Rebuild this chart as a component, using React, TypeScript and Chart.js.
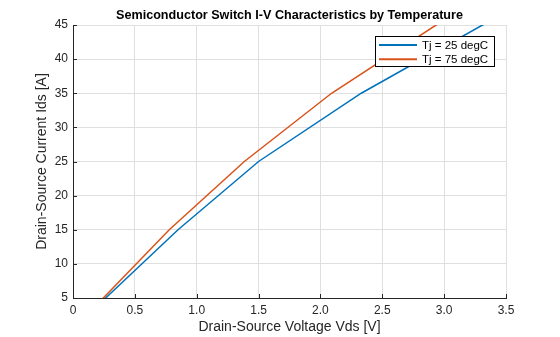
import React, { useEffect, useRef } from "react";
import { Chart, registerables } from "chart.js";

Chart.register(...registerables);

const FONT = "'Liberation Sans', Arial, Helvetica, sans-serif";

// Drain current values (A) at which the curves are sampled
const idsValues = [0, 5, 15, 25, 35, 45, 55];
// Drain-source voltage (V) for each current, per junction temperature
const vdsTj25 = [0, 0.264, 0.849, 1.5, 2.33, 3.31, 4.4];
const vdsTj75 = [0, 0.245, 0.778, 1.385, 2.09, 2.935, 3.9];

const seriesLabels = ["Tj = 25 degC", "Tj = 75 degC"];
const seriesColors = ["#0072BD", "#D95319"];

const xTickValues = [0, 0.5, 1, 1.5, 2, 2.5, 3, 3.5];
const yTickValues = [5, 10, 15, 20, 25, 30, 35, 40, 45];

const chartTitle = "Semiconductor Switch I-V Characteristics by Temperature";
const xAxisTitle = "Drain-Source Voltage Vds [V]";
const yAxisTitle = "Drain-Source Current Ids [A]";

const decorPlugin = {
  id: "decor",
  afterDraw(chart: any) {
    const { ctx, chartArea: ca, scales } = chart;
    ctx.save();
    // inward tick marks
    ctx.strokeStyle = "#262626";
    ctx.lineWidth = 1;
    ctx.beginPath();
    for (const t of xTickValues) {
      const px = Math.round(scales.x.getPixelForValue(t)) + 0.5;
      ctx.moveTo(px, ca.bottom);
      ctx.lineTo(px, ca.bottom - 4);
    }
    for (const t of yTickValues) {
      const py = Math.round(scales.y.getPixelForValue(t)) + 0.5;
      ctx.moveTo(ca.left, py);
      ctx.lineTo(ca.left + 4, py);
    }
    ctx.stroke();

    // title
    ctx.fillStyle = "#000000";
    ctx.font = `bold 12.6px ${FONT}`;
    ctx.textAlign = "center";
    ctx.textBaseline = "alphabetic";
    ctx.fillText(chartTitle, (ca.left + ca.right) / 2, 19);

    // legend
    const bx = 375.5, by = 36.5, bw = 119, bh = 30;
    ctx.fillStyle = "#ffffff";
    ctx.fillRect(bx, by, bw, bh);
    ctx.strokeStyle = "#000000";
    ctx.lineWidth = 1;
    ctx.strokeRect(bx, by, bw, bh);
    ctx.font = `11.5px ${FONT}`;
    ctx.textAlign = "left";
    ctx.textBaseline = "middle";
    seriesLabels.forEach((label, i) => {
      const ry = 45 + i * 14.3;
      ctx.strokeStyle = seriesColors[i];
      ctx.lineWidth = 2;
      ctx.beginPath();
      ctx.moveTo(379, ry);
      ctx.lineTo(417, ry);
      ctx.stroke();
      ctx.fillStyle = "#000000";
      ctx.fillText(label, 422, ry + 0.5);
    });
    ctx.restore();
  },
};

export default function App() {
  const canvasRef = useRef<HTMLCanvasElement | null>(null);

  useEffect(() => {
    document.body.style.margin = "0";
    const canvas = canvasRef.current;
    if (!canvas) return;
    const seriesVds = [vdsTj25, vdsTj75];
    const chart = new Chart(canvas, {
      type: "scatter",
      data: {
        datasets: seriesLabels.map((label, i) => ({
          label,
          data: idsValues.map((y, j) => ({ x: seriesVds[i][j], y })),
          borderColor: seriesColors[i],
          backgroundColor: seriesColors[i],
          showLine: true,
          pointRadius: 0,
          borderWidth: 1.5,
          tension: 0,
        })),
      },
      options: {
        responsive: false,
        animation: false,
        devicePixelRatio: 1,
        layout: { padding: { top: 25, right: 54, bottom: 0, left: 0 } },
        plugins: {
          legend: { display: false },
          title: { display: false },
          tooltip: { enabled: false },
        },
        scales: {
          x: {
            type: "linear",
            min: 0,
            max: 3.5,
            ticks: {
              stepSize: 0.5,
              color: "#262626",
              font: { family: FONT, size: 12 },
              padding: 5,
              maxRotation: 0,
            },
            grid: { color: "#dfdfdf", drawTicks: false },
            border: { display: true, color: "#262626", width: 1 },
            title: {
              display: true,
              text: xAxisTitle,
              color: "#262626",
              font: { family: FONT, size: 14 },
              padding: { top: 0, bottom: 1.5 },
            },
            afterFit: (s: any) => {
              s.height = 39;
            },
          },
          y: {
            type: "linear",
            min: 5,
            max: 45,
            ticks: {
              stepSize: 5,
              color: "#262626",
              font: { family: FONT, size: 12 },
              padding: 5,
            },
            grid: { color: "#dfdfdf", drawTicks: false },
            border: { display: true, color: "#262626", width: 1 },
            title: {
              display: true,
              text: yAxisTitle,
              color: "#262626",
              font: { family: FONT, size: 14 },
              padding: { top: 33.6, bottom: 0 },
            },
            afterFit: (s: any) => {
              s.width = 73;
            },
          },
        },
      },
      plugins: [decorPlugin],
    });
    return () => chart.destroy();
  }, []);

  return (
    <div style={{ width: 560, height: 337 }}>
      <canvas ref={canvasRef} width={560} height={337} style={{ display: "block" }} />
    </div>
  );
}
